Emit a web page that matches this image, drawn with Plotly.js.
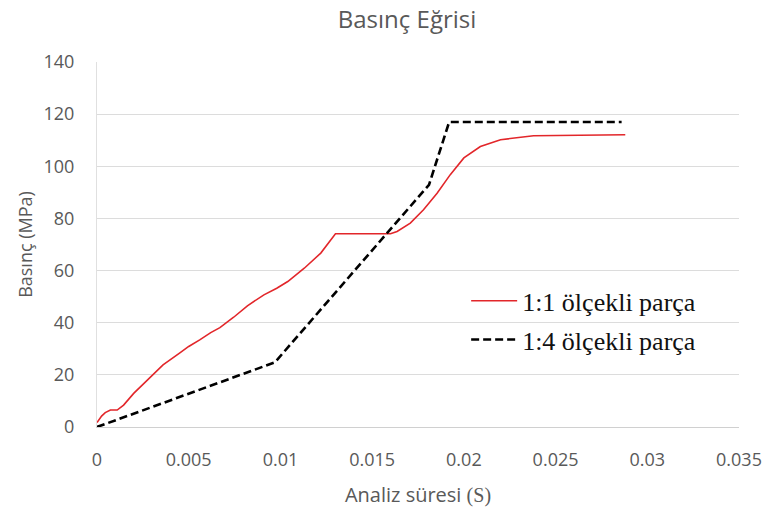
<!DOCTYPE html>
<html>
<head>
<meta charset="utf-8">
<script src="https://cdn.plot.ly/plotly-3.0.1.min.js"></script>
<style>html,body{margin:0;padding:0;background:#fff;}#chart{width:768px;height:516px;}</style>
</head>
<body>
<div id="chart"></div>
<script>
// 1:1 ölçekli parça (red solid)
var time11 = [0, 0.00025, 0.00045, 0.00073, 0.0011, 0.00145, 0.002, 0.0024, 0.0027, 0.0032, 0.0036, 0.0045, 0.0050, 0.0056, 0.0062, 0.0067, 0.00745, 0.0082, 0.0091, 0.0098, 0.0104, 0.0113, 0.0122, 0.0130, 0.0160, 0.01636, 0.01708, 0.0178, 0.01854, 0.01926, 0.0200, 0.0209, 0.0220, 0.0238, 0.0288];
var pres11 = [1.7, 4.2, 5.5, 6.5, 6.5, 8.4, 12.9, 15.6, 17.4, 21.0, 23.8, 28.3, 30.9, 33.4, 36.2, 38.1, 42.1, 46.5, 50.7, 53.2, 55.8, 60.9, 66.7, 74.1, 74.1, 75.0, 78.2, 83.3, 89.7, 96.8, 103.2, 107.6, 110.2, 111.7, 112.1];
// 1:4 ölçekli parça (black dashed)
var time14 = [0, 0.0097, 0.0181, 0.0192, 0.0286];
var pres14 = [0, 24.8, 92.9, 117, 117];

var seriesNames = ['1:1 ölçekli parça', '1:4 ölçekli parça'];
var xTicks = [0, 0.005, 0.01, 0.015, 0.02, 0.025, 0.03, 0.035];
var xTickText = ['0', '0.005', '0.01', '0.015', '0.02', '0.025', '0.03', '0.035'];
var yTicks = [0, 20, 40, 60, 80, 100, 120, 140];

var gray = '#595959';
var traces = [
  {x: time11, y: pres11, type: 'scatter', mode: 'lines', name: seriesNames[0], legendgroup: 'a',
   line: {color: '#e2262a', width: 1.6}},
  {x: time14, y: pres14, type: 'scatter', mode: 'lines', name: seriesNames[1], legendgroup: 'b',
   line: {color: '#000000', width: 2.6, dash: '8px,4px'}}
];

var layout = {
  width: 768, height: 516,
  margin: {l: 97, r: 29, t: 62, b: 89, pad: 0},
  paper_bgcolor: '#ffffff', plot_bgcolor: '#ffffff',
  font: {family: 'Open Sans, sans-serif', color: gray, size: 18},
  title: {text: 'Basınç Eğrisi', font: {family: 'Open Sans, sans-serif', size: 24, color: gray},
          x: 0.53, xanchor: 'center', y: 0.962, yanchor: 'middle'},
  xaxis: {range: [0, 0.035], tickvals: xTicks, ticktext: xTickText, showgrid: false,
          zeroline: false, showline: true, linecolor: '#d0d0d0', linewidth: 1, ticks: '',
          ticklabelstandoff: 16, tickfont: {size: 18, color: gray},
          title: {text: 'Analiz süresi <span style="font-family:serif">(S)</span>',
                  font: {size: 20, color: gray}, standoff: 18}},
  yaxis: {range: [0, 140], tickvals: yTicks, showgrid: true, gridcolor: '#dcdcdc', gridwidth: 1,
          zeroline: false, showline: true, linecolor: '#e0e0e0', linewidth: 1, ticks: '',
          ticklabelstandoff: 18, tickfont: {size: 18, color: gray},
          title: {text: 'Basınç (MPa)', font: {size: 18, color: gray}, standoff: 6}},
  shapes: [
    {type: 'rect', xref: 'x', yref: 'y', layer: 'below', x0: 0.02265, x1: 0.036, y0: 18.0, y1: 55.0,
     fillcolor: '#ffffff', line: {width: 0}}
  ],
  showlegend: true,
  legend: {x: 0.575, xanchor: 'left', y: 0.41, yanchor: 'top', bgcolor: 'rgba(0,0,0,0)',
           borderwidth: 0, itemwidth: 46, traceorder: 'grouped', tracegroupgap: 2,
           font: {family: 'Liberation Serif, Times New Roman, serif', size: 26, color: '#111111'}}
};

Plotly.newPlot('chart', traces, layout, {staticPlot: true, displayModeBar: false});
</script>
</body>
</html>
